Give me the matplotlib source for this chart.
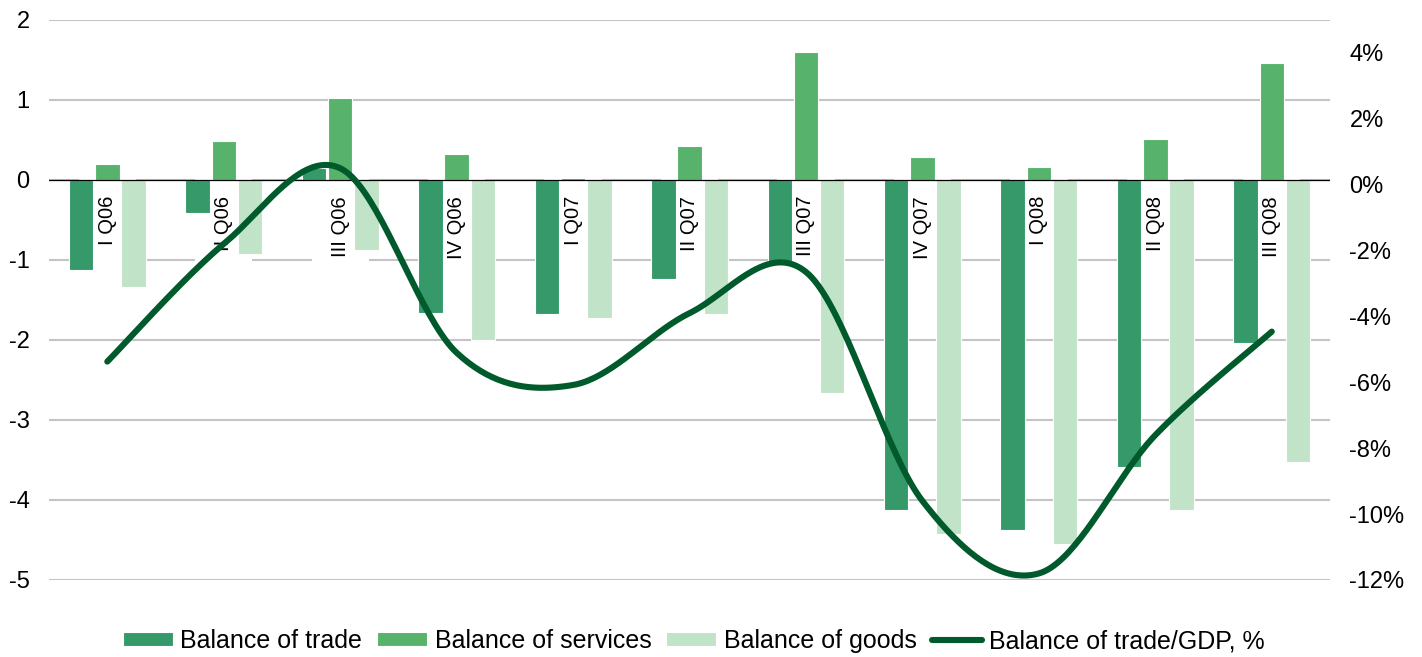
import matplotlib
matplotlib.use('Agg')
import matplotlib.pyplot as plt
import numpy as np

plt.rcParams['font.family'] = ['Liberation Sans', 'DejaVu Sans']
plt.rcParams['axes.unicode_minus'] = False

quarters = ['I Q06', 'II Q06', 'III Q06', 'IV Q06', 'I Q07', 'II Q07',
			'III Q07', 'IV Q07', 'I Q08', 'II Q08', 'III Q08']
trade = [-1.12, -0.41, 0.15, -1.66, -1.67, -1.24, -1.04, -4.12, -4.37, -3.59, -2.04]
services = [0.20, 0.49, 1.03, 0.33, 0.03, 0.43, 1.60, 0.29, 0.16, 0.51, 1.46]
goods = [-1.34, -0.92, -0.87, -2.00, -1.72, -1.68, -2.66, -4.42, -4.55, -4.12, -3.52]
trade_gdp = [-5.37, -1.8, 0.5, -5.1, -6.08, -3.9, -2.65, -9.6, -11.8, -7.6, -4.46]

c_trade = '#35996a'
c_services = '#57b36b'
c_goods = '#c1e3c8'
c_line = '#005a2b'

def smooth(xs, ys, n=40):
	# Catmull-Rom curve through the points, like a spreadsheet "smoothed line"
	p = np.column_stack([xs, ys]).astype(float)
	p = np.vstack([p[0], p, p[-1]])
	out = []
	for i in range(1, len(p) - 2):
		p0, p1, p2, p3 = p[i - 1], p[i], p[i + 1], p[i + 2]
		c1 = p1 + (p2 - p0) / 6
		c2 = p2 - (p3 - p1) / 6
		t = np.linspace(0, 1, n)[:, None]
		seg = (1 - t)**3 * p1 + 3 * (1 - t)**2 * t * c1 + 3 * (1 - t) * t**2 * c2 + t**3 * p2
		out.append(seg if i == 1 else seg[1:])
	out = np.vstack(out)
	return out[:, 0], out[:, 1]

fig = plt.figure(figsize=(14.22, 6.57), dpi=100)
ax = fig.add_axes([0.0345, 0.1172, 0.9008, 0.8524])

x = np.arange(len(quarters))
w = 0.21
off = 0.225
ax.bar(x - off, trade, w, color=c_trade, edgecolor='white', linewidth=0.8, zorder=2, label='Balance of trade')
ax.bar(x, services, w, color=c_services, edgecolor='white', linewidth=0.8, zorder=2, label='Balance of services')
ax.bar(x + off, goods, w, color=c_goods, edgecolor='white', linewidth=0.8, zorder=2, label='Balance of goods')
ax.axhline(0, color='black', linewidth=0.9, zorder=2.5)

# quarter names under the zero line
for i, q in enumerate(quarters):
	ax.text(i, -0.2, q, rotation=90, ha='center', va='top', fontsize=14.5, zorder=1,
			bbox=dict(boxstyle='square,pad=0.95', facecolor='white', edgecolor='none'))

ax.set_xlim(-0.5, 10.5)
ax.set_ylim(-5, 2)
ax.set_yticks(range(-5, 3))
ax.set_xticks([])
ax.yaxis.grid(True, color='#c4c4c4', linewidth=1.5)
ax.set_axisbelow(True)
ax.tick_params(axis='y', length=0, pad=14, labelsize=17)
for s in ax.spines.values():
	s.set_visible(False)

ax2 = ax.twinx()
xs, ys = smooth(x, trade_gdp)
ax2.plot(xs, ys, color=c_line, linewidth=4.4, solid_capstyle='round', label='Balance of trade/GDP, %')
ax2.set_ylim(-12, 5)
ax2.set_yticks(range(-12, 5, 2))
ax2.set_yticklabels([f'{v}%' for v in range(-12, 5, 2)])
ax2.tick_params(axis='y', length=0, pad=14, labelsize=17)
for s in ax2.spines.values():
	s.set_visible(False)

h1, l1 = ax.get_legend_handles_labels()
h2, l2 = ax2.get_legend_handles_labels()
fig.legend(h1 + h2, l1 + l2, loc='center', bbox_to_anchor=(0.488, 0.024), ncol=4, frameon=False,
		   fontsize=18, handlelength=2.0, handleheight=0.5, handletextpad=0.3, columnspacing=0.6)

fig.savefig('out.png', dpi=100)
